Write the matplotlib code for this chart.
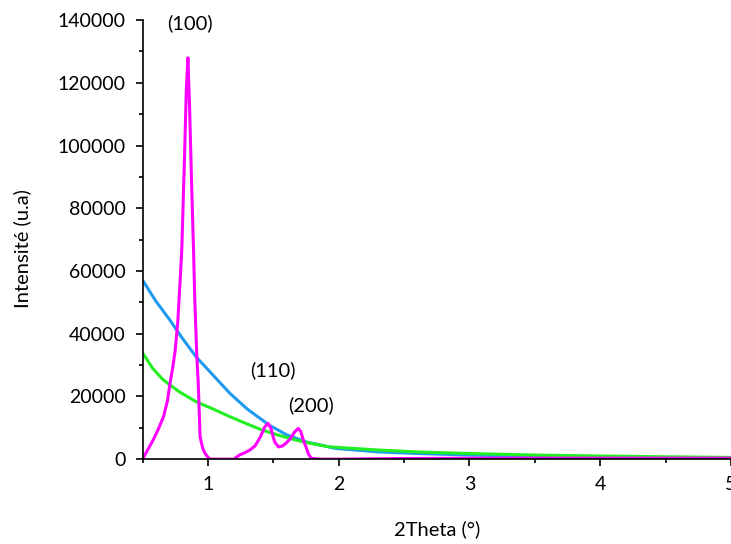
import matplotlib
matplotlib.use('Agg')
import matplotlib.pyplot as plt
from matplotlib.ticker import MultipleLocator

plt.rcParams['font.family'] = ['Lato', 'DejaVu Sans']

# magenta pattern
x_mag = [0.50, 0.54, 0.58, 0.62, 0.66, 0.69, 0.71, 0.73, 0.75, 0.77, 0.786, 0.80, 0.82, 0.835,
         0.847, 0.86, 0.875, 0.89, 0.90, 0.915, 0.926, 0.94, 0.96, 0.977, 1.00, 1.015, 1.10,
         1.20, 1.24, 1.28, 1.32, 1.36, 1.40, 1.435, 1.46, 1.48, 1.51, 1.54, 1.57, 1.60, 1.63,
         1.66, 1.69, 1.71, 1.73, 1.75, 1.77, 1.79, 1.85, 2.0, 2.5, 3.0, 3.5, 4.0, 4.5, 5.0]
y_mag = [0, 3000, 6000, 9500, 13500, 18500, 24200, 29000, 34800, 44000, 56000, 66600, 95000, 118000,
         128000, 112000, 88000, 66600, 50000, 33000, 24200, 7100, 3500, 1900, 600, 0, 0,
         0, 1300, 2000, 2900, 4200, 7000, 10300, 11400, 10000, 5500, 3900, 4200, 5200, 6500,
         8500, 9800, 8800, 6000, 3900, 1500, 300, 0, 0, 200, 300, 300, 300, 300, 300]

# blue pattern
x_blue = [0.50, 0.60, 0.71, 0.80, 0.91, 1.05, 1.17, 1.30, 1.47, 1.60, 1.75, 1.98,
          2.31, 2.6, 3.0, 3.5, 4.0, 4.5, 5.0]
y_blue = [57100, 50500, 44300, 38800, 32600, 26300, 20900, 16000, 10800, 7800, 5500, 3400,
          2300, 1800, 1300, 900, 600, 400, 200]

# green pattern
x_green = [0.50, 0.58, 0.66, 0.78, 0.91, 1.05, 1.17, 1.30, 1.42, 1.55, 1.68, 1.80, 1.93,
           2.31, 2.6, 3.0, 3.5, 4.0, 4.5, 5.0]
y_green = [33900, 28800, 25200, 21500, 18300, 15800, 13500, 11200, 9200, 7500, 6000, 4900, 3900,
           2900, 2300, 1800, 1300, 1000, 750, 550]

peak_labels = ['(100)', '(110)', '(200)']
peak_x = [0.865, 1.50, 1.79]
peak_y = [139000, 28500, 17300]

fig = plt.figure(figsize=(7.31, 5.44), dpi=100)
ax = fig.add_axes([0.195, 0.156, 0.805, 0.807])

ax.plot(x_blue, y_blue, color='#1E9BF0', lw=2.2)
ax.plot(x_green, y_green, color='#22EE22', lw=2.2)
ax.plot(x_mag, y_mag, color='#FF00FF', lw=2.2)

ax.set_xlim(0.5, 5)
ax.set_ylim(0, 140000)
ax.xaxis.set_major_locator(MultipleLocator(1))
ax.xaxis.set_minor_locator(MultipleLocator(0.5))
ax.yaxis.set_major_locator(MultipleLocator(20000))
ax.yaxis.set_minor_locator(MultipleLocator(10000))
ax.tick_params(which='major', direction='out', length=5, width=1.2, labelsize=14, pad=7)
ax.tick_params(which='minor', direction='out', length=3, width=1.2)

for s in ['top', 'right']:
    ax.spines[s].set_visible(False)
for s in ['left', 'bottom']:
    ax.spines[s].set_linewidth(1.2)

for lab, px, py in zip(peak_labels, peak_x, peak_y):
    ax.text(px, py, lab, fontsize=14.5, ha='center', va='center', clip_on=False)

ax.set_xlabel('2Theta (°)', fontsize=14.5, labelpad=20)
ax.set_ylabel('Intensité (u.a)', fontsize=14.5)
ax.yaxis.set_label_coords(-0.19, 0.48)

fig.savefig('out.png', dpi=100)
